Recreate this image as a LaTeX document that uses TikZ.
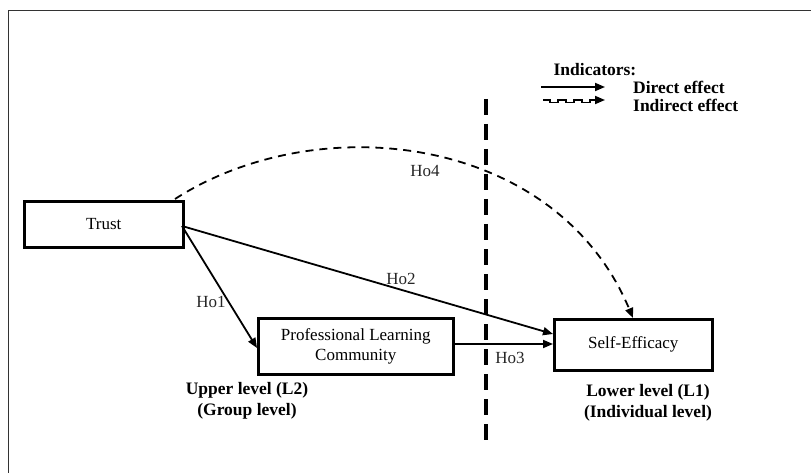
\documentclass[tikz,border=0pt]{standalone}
\usepackage{fontspec}
\setmainfont{Liberation Serif}
\usetikzlibrary{arrows.meta}
\begin{document}
\begin{tikzpicture}[x=1pt,y=-1pt,
  box/.style={draw,line width=2.6pt,minimum height=0pt,inner sep=0pt,anchor=north west,font=\fontsize{17}{20}\selectfont,align=center},
  conn/.style={line width=1.8pt,-{Triangle[length=10pt,width=8pt]}},
  hlab/.style={font=\fontsize{17}{20}\selectfont,inner sep=0pt,text=black!85},
  blab/.style={font=\bfseries\fontsize{17.5}{21}\selectfont,align=center,inner sep=0pt}]
\useasboundingbox (0,0) rectangle (811,473);
\draw[line width=1pt,black!80] (8,500) -- (8,11) -- (830,11);
% boxes
\node[box,minimum width=159pt,minimum height=46pt] (trust) at (23,200) {Trust};
\node[box,minimum width=195pt,minimum height=56pt] (plc) at (257,317) {Professional Learning\\Community};
\node[box,minimum width=158pt,minimum height=51pt] (se) at (553,318) {Self-Efficacy};
% separator
\coordinate (vt) at (486,99);
\coordinate (vb) at (486,442);
\draw[line width=3.8pt,dash pattern=on 16pt off 9pt] (vt) -- (vb);
% connectors
\coordinate (tr) at (182,226);
\draw[conn] (tr) -- (plc.west |- 0,348);
\draw[conn] (tr) -- (se.west |- 0,334);
\draw[conn] (plc.east |- 0,344) -- (se.west |- 0,344);
\coordinate (ds) at (175,199);
\coordinate (de) at (633,318);
\draw[line width=1.8pt,dash pattern=on 8pt off 6pt,-{Triangle[length=10pt,width=8pt]}] (ds) .. controls (318,107) and (556,134) .. (de);
% hypothesis labels
\node[hlab] (h1) at (211,302) {Ho1};
\node[hlab] (h2) at (401,279) {Ho2};
\node[hlab] (h3) at (510,358) {Ho3};
\node[hlab] (h4) at (425,171) {Ho4};
% level labels
\node[blab] (up) at (247,401) {Upper level (L2)\\(Group level)};
\node[blab] (low) at (648,403) {Lower level (L1)\\(Individual level)};
% legend
\node[blab] (ind) at (595,70) {Indicators:};
\node[blab,anchor=west] (de1) at (633,87) {Direct effect};
\node[blab,anchor=west] (ie1) at (633,105) {Indirect effect};
\coordinate (la) at (541,87);
\coordinate (lb) at (605,87);
\draw[conn] (la) -- (lb);
\coordinate (ma) at (543,100);
\coordinate (mb) at (605,100);
\draw[line width=1.5pt] (ma) -- (550,100) -- (550,102.5) -- (558,102.5) -- (558,100) -- (566,100) -- (566,102.5) -- (574,102.5) -- (574,100) -- (582,100) -- (582,102.5) -- (590,102.5) -- (590,100) -- (596,100);
\draw[conn] (595,100) -- (mb);
\end{tikzpicture}
\end{document}
